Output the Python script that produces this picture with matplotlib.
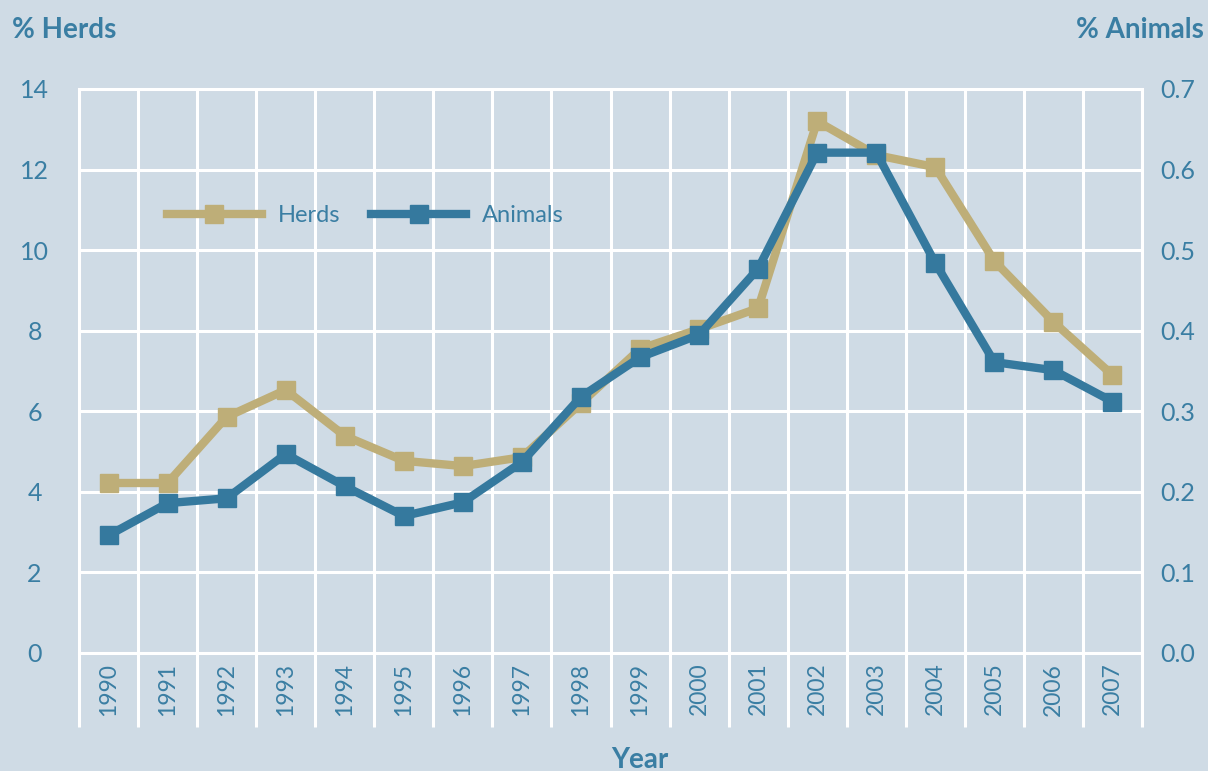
import matplotlib
matplotlib.use("Agg")
import matplotlib.pyplot as plt
import numpy as np

# --- Data ---
years = [1990, 1991, 1992, 1993, 1994, 1995, 1996, 1997, 1998,
         1999, 2000, 2001, 2002, 2003, 2004, 2005, 2006, 2007]
herds = [4.22, 4.22, 5.86, 6.53, 5.39, 4.77, 4.64, 4.86, 6.20,
         7.55, 8.04, 8.56, 13.20, 12.36, 12.06, 9.73, 8.22, 6.90]
animals = [0.146, 0.186, 0.192, 0.247, 0.207, 0.170, 0.187, 0.237, 0.318,
           0.367, 0.395, 0.477, 0.621, 0.621, 0.484, 0.361, 0.351, 0.312]
left_ticks = [0, 2, 4, 6, 8, 10, 12, 14]
right_ticks = [0.0, 0.1, 0.2, 0.3, 0.4, 0.5, 0.6, 0.7]

# --- Style ---
bg = "#cfdbe5"
tan = "#beae78"
blue = "#35799e"
txt = "#3a7ea3"
plt.rcParams['font.family'] = ['Lato', 'DejaVu Sans']

fig = plt.figure(figsize=(12.08, 7.71), dpi=100, facecolor=bg)
ax = fig.add_axes([79/1208, 1 - 653/771, 1063/1208, 564/771])
ax.set_facecolor(bg)

x = np.arange(len(years))
ax.set_xlim(-0.5, len(years) - 0.5)
ax.set_ylim(0, 14)

# --- Grid: white lines at category edges, extended below the axis ---
ax.set_xticks(x)
ax.set_xticklabels([str(y) for y in years], rotation=90, va="top",
                   fontsize=16.5, color=txt)
ax.set_xticks(np.arange(len(years) + 1) - 0.5, minor=True)
ax.tick_params(axis="x", which="major", length=0, pad=7)
ax.tick_params(axis="x", which="minor", length=53, width=2.2,
               color="white", direction="out")
ax.grid(axis="x", which="minor", color="white", lw=2.2)
ax.set_yticks(left_ticks)
ax.set_yticklabels([str(t) for t in left_ticks], fontsize=18, color=txt,
                   ha="center")
ax.tick_params(axis="y", length=0, pad=32)
ax.grid(axis="y", color="white", lw=2.2)
for s in ax.spines.values():
    s.set_color("white")
    s.set_linewidth(2.2)
ax.set_axisbelow(True)

# --- Series ---
l1, = ax.plot(x, herds, color=tan, lw=6, marker="s", ms=12.5,
              label="Herds", zorder=3)
ax2 = ax.twinx()
ax2.set_ylim(0, 0.7)
ax2.set_yticks(right_ticks)
ax2.set_yticklabels([f"{t:.1f}" for t in right_ticks], fontsize=18, color=txt)
ax2.tick_params(axis="y", length=0, pad=13)
for s in ax2.spines.values():
    s.set_visible(False)
l2, = ax2.plot(x, animals, color=blue, lw=6, marker="s", ms=12.5,
               label="Animals", zorder=3)

ax.legend(handles=[l1, l2], loc="center left", bbox_to_anchor=(0.083, 0.776),
          ncol=2, frameon=False, fontsize=17, labelcolor=txt,
          handlelength=4, handletextpad=0.7, columnspacing=1.3,
          numpoints=1, borderpad=0, borderaxespad=0)

# --- Axis titles ---
fig.text(12/1208, 1 - 30/771, "% Herds", fontsize=20, fontweight="bold",
         color=txt, ha="left", va="center")
fig.text(1 - 4/1208, 1 - 30/771, "% Animals", fontsize=20, fontweight="bold",
         color=txt, ha="right", va="center")
fig.text(640/1208, 1 - 760/771, "Year", fontsize=20, fontweight="bold",
         color=txt, ha="center", va="center")

fig.savefig("out.png", dpi=100, facecolor=bg)
